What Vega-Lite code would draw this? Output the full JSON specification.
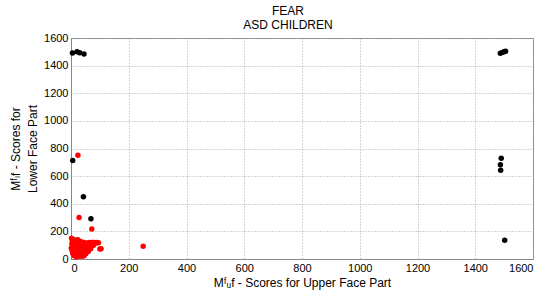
{
  "$schema": "https://vega.github.io/schema/vega-lite/v6.json",
  "autosize": {"type": "none"},
  "padding": {"left": 71, "top": 38, "right": 17, "bottom": 38},
  "width": 462,
  "height": 221,
  "background": "white",
  "title": {
    "text": ["FEAR", "ASD CHILDREN"],
    "font": "Liberation Sans",
    "fontSize": 12,
    "fontWeight": "normal",
    "color": "#000",
    "anchor": "middle",
    "dx": -14,
    "offset": 0,
    "lineHeight": 14
  },
  "config": {
    "view": {"stroke": "#888", "strokeWidth": 1},
    "axis": {
      "labelFont": "Liberation Sans",
      "labelFontSize": 11,
      "labelColor": "#000",
      "titleFont": "Liberation Sans, DejaVu Sans",
      "titleFontSize": 12,
      "titleFontWeight": "normal",
      "titleColor": "#000",
      "grid": true,
      "gridDash": [1, 2],
      "gridColor": "#a8a8a8",
      "gridOpacity": 1,
      "domainColor": "#888",
      "ticks": false,
      "labelPadding": 3,
      "format": "d"
    }
  },
  "data": {
    "values": [
      {"x": 5, "y": 1491, "g": "black"},
      {"x": 21, "y": 1500, "g": "black"},
      {"x": 30, "y": 1493, "g": "black"},
      {"x": 45, "y": 1484, "g": "black"},
      {"x": 6, "y": 713, "g": "black"},
      {"x": 43, "y": 451, "g": "black"},
      {"x": 69, "y": 292, "g": "black"},
      {"x": 1487, "y": 1490, "g": "black"},
      {"x": 1494, "y": 1496, "g": "black"},
      {"x": 1500, "y": 1500, "g": "black"},
      {"x": 1505, "y": 1504, "g": "black"},
      {"x": 1490, "y": 730, "g": "black"},
      {"x": 1487, "y": 682, "g": "black"},
      {"x": 1488, "y": 643, "g": "black"},
      {"x": 1502, "y": 135, "g": "black"},
      {"x": 24, "y": 751, "g": "red"},
      {"x": 28, "y": 301, "g": "red"},
      {"x": 72, "y": 217, "g": "red"},
      {"x": 250, "y": 92, "g": "red"},
      {"x": 104, "y": 75, "g": "red"},
      {"x": 2, "y": 150, "g": "red"},
      {"x": 5, "y": 130, "g": "red"},
      {"x": 3, "y": 110, "g": "red"},
      {"x": 8, "y": 95, "g": "red"},
      {"x": 1, "y": 80, "g": "red"},
      {"x": 4, "y": 60, "g": "red"},
      {"x": 6, "y": 40, "g": "red"},
      {"x": 10, "y": 25, "g": "red"},
      {"x": 12, "y": 140, "g": "red"},
      {"x": 15, "y": 120, "g": "red"},
      {"x": 18, "y": 100, "g": "red"},
      {"x": 14, "y": 80, "g": "red"},
      {"x": 16, "y": 60, "g": "red"},
      {"x": 20, "y": 45, "g": "red"},
      {"x": 22, "y": 30, "g": "red"},
      {"x": 25, "y": 110, "g": "red"},
      {"x": 28, "y": 90, "g": "red"},
      {"x": 30, "y": 70, "g": "red"},
      {"x": 26, "y": 50, "g": "red"},
      {"x": 32, "y": 35, "g": "red"},
      {"x": 35, "y": 125, "g": "red"},
      {"x": 38, "y": 100, "g": "red"},
      {"x": 40, "y": 80, "g": "red"},
      {"x": 36, "y": 60, "g": "red"},
      {"x": 42, "y": 45, "g": "red"},
      {"x": 45, "y": 120, "g": "red"},
      {"x": 48, "y": 95, "g": "red"},
      {"x": 50, "y": 70, "g": "red"},
      {"x": 46, "y": 25, "g": "red"},
      {"x": 55, "y": 115, "g": "red"},
      {"x": 58, "y": 90, "g": "red"},
      {"x": 60, "y": 55, "g": "red"},
      {"x": 52, "y": 40, "g": "red"},
      {"x": 62, "y": 120, "g": "red"},
      {"x": 65, "y": 100, "g": "red"},
      {"x": 68, "y": 75, "g": "red"},
      {"x": 70, "y": 120, "g": "red"},
      {"x": 72, "y": 95, "g": "red"},
      {"x": 75, "y": 120, "g": "red"},
      {"x": 78, "y": 100, "g": "red"},
      {"x": 80, "y": 120, "g": "red"},
      {"x": 85, "y": 115, "g": "red"},
      {"x": 90, "y": 120, "g": "red"},
      {"x": 95, "y": 118, "g": "red"},
      {"x": 100, "y": 72, "g": "red"},
      {"x": 58, "y": 65, "g": "red"},
      {"x": 10, "y": 55, "g": "red"},
      {"x": 20, "y": 70, "g": "red"},
      {"x": 30, "y": 20, "g": "red"},
      {"x": 40, "y": 20, "g": "red"},
      {"x": 18, "y": 15, "g": "red"},
      {"x": 8, "y": 130, "g": "red"},
      {"x": 24, "y": 140, "g": "red"},
      {"x": 44, "y": 105, "g": "red"},
      {"x": 66, "y": 110, "g": "red"}
    ]
  },
  "mark": {"type": "circle", "size": 30, "opacity": 1},
  "encoding": {
    "x": {
      "field": "x",
      "type": "quantitative",
      "scale": {"domain": [0, 1600], "nice": false, "zero": false},
      "axis": {
        "values": [0, 200, 400, 600, 800, 1000, 1200, 1400, 1600],
        "title": "Mᶠᵤf - Scores for Upper Face Part",
        "titlePadding": 4
      }
    },
    "y": {
      "field": "y",
      "type": "quantitative",
      "scale": {"domain": [0, 1600], "nice": false, "zero": false},
      "axis": {
        "values": [0, 200, 400, 600, 800, 1000, 1200, 1400, 1600],
        "title": ["Mᶠₗf - Scores for", "Lower Face Part"],
        "titlePadding": 4,
        "titleLineHeight": 17
      }
    },
    "color": {
      "field": "g",
      "type": "nominal",
      "scale": {"domain": ["black", "red"], "range": ["#000000", "#ff0000"]},
      "legend": null
    }
  }
}
